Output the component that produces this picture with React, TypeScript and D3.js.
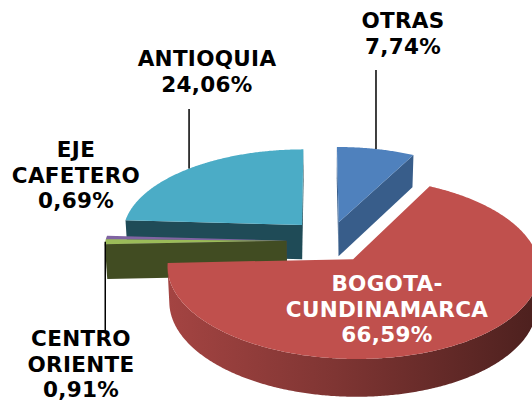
import React from 'react';
import * as d3 from 'd3';

const regions = ['OTRAS', 'BOGOTA-CUNDINAMARCA', 'CENTRO ORIENTE', 'EJE CAFETERO', 'ANTIOQUIA'];
const labelLines = [['OTRAS'], ['BOGOTA-', 'CUNDINAMARCA'], ['CENTRO', 'ORIENTE'], ['EJE', 'CAFETERO'], ['ANTIOQUIA']];
const shares = [7.74, 66.59, 0.91, 0.69, 24.06];
const topColors = ['#4f81bd', '#c0504d', '#9bbb59', '#8064a2', '#4bacc6'];
const cutColors = ['#385d8a', '#8c3836', '#414c22', '#4f3d66', '#1f4b57'];

// per slice offset of the exploded piece, in pie radii (x to the right, z away from the viewer)
const explode = [[0.117, 0.13], [0.19, -0.3], [-0.173, -0.09], [-0.173, -0.09], [-0.09, 0.095]];
// label centre x, first baseline, end of the leader line (null: no leader)
const labelPos: [number, number, number | null][] = [[403, 28, 70], [387, 291, null], [81, 346, 333], [76, 157, null], [207, 66, 109]];

const width = 532;
const height = 404;
const cx = 318;
const cy = 233;
const dist = 9;
const focal = 1616;
const tilt = (28.1 * Math.PI) / 180;
const thick = 0.22;
const lineH = 25.5;

export default function App() {
  const cosE = Math.cos(tilt);
  const sinE = Math.sin(tilt);
  const project = (x: number, y: number, z: number): [number, number] => {
    const w = dist + z * cosE - y * sinE;
    const v = y * cosE + z * sinE;
    return [cx + (focal * x) / w, cy - (focal * v) / w];
  };
  const line = d3.line();
  const fmt = d3.formatLocale({ decimal: ',', thousands: '.', grouping: [3], currency: ['', ''] }).format('.2f');

  const arcs = d3.pie<number>().sort(null).value(d => d)(shares);

  const slices = arcs.map((a, i) => {
    const [ox, oz] = explode[i];
    const a0 = a.startAngle;
    const a1 = a.endAngle;
    const n = Math.max(2, Math.ceil((a1 - a0) / (Math.PI / 360)));
    const angles = d3.range(n + 1).map(k => a0 + ((a1 - a0) * k) / n);
    const rim = (t: number, y: number) => project(ox + Math.sin(t), y, oz + Math.cos(t));
    const centre = (y: number) => project(ox, y, oz);
    const k = dist * cosE + oz;

    const top = line([centre(0), ...angles.map(t => rim(t, 0))]) + 'Z';
    const cuts: string[] = [];
    const cut = (t: number) => line([centre(0), rim(t, 0), rim(t, -thick), centre(-thick)]) + 'Z';
    if (ox * Math.cos(a0) - Math.sin(a0) * k > 0) cuts.push(cut(a0));
    if (-ox * Math.cos(a1) + Math.sin(a1) * k > 0) cuts.push(cut(a1));

    const vis = angles.filter(t => -ox * Math.sin(t) - 1 - Math.cos(t) * k > 0);
    const outer = vis.length > 1
      ? line([...vis.map(t => rim(t, 0)), ...vis.slice().reverse().map(t => rim(t, -thick))]) + 'Z'
      : null;

    const mid = (a0 + a1) / 2;
    const depth = oz + (2 / 3) * Math.cos(mid);
    return { i, top, cuts, outer, anchor: rim(mid, 0), depth };
  });

  const order = slices.slice().sort((p, q) => q.depth - p.depth);

  return (
    <svg width={width} height={height} style={{ position: 'absolute', left: 0, top: 0, background: '#fff' }}>
      <defs>
        {topColors.map((c, i) => (
          <linearGradient key={i} id={`side-${i}`} x1="0" x2="1" y1="0" y2="0">
            <stop offset="0" stopColor={d3.color(c)!.darker(0.45).formatHex()} />
            <stop offset="0.45" stopColor={d3.color(c)!.darker(1.15).formatHex()} />
            <stop offset="1" stopColor={d3.color(c)!.darker(2.6).formatHex()} />
          </linearGradient>
        ))}
      </defs>
      {order.map(s => (
        <g key={regions[s.i]}>
          {s.outer && <path d={s.outer} fill={`url(#side-${s.i})`} />}
          {s.cuts.map((d, j) => <path key={j} d={d} fill={cutColors[s.i]} />)}
          <path d={s.top} fill={topColors[s.i]} />
        </g>
      ))}
      {slices.map(s => {
        const end = labelPos[s.i][2];
        if (end === null) return null;
        const [x, y] = s.anchor;
        return <line key={`l${s.i}`} x1={x} x2={x} y1={y} y2={end} stroke="#000" strokeWidth={1.5} />;
      })}
      {slices.map(s => {
        const [lx, ly] = labelPos[s.i];
        const lines = [...labelLines[s.i], fmt(shares[s.i]) + '%'];
        return (
          <text key={`t${s.i}`} x={lx} y={ly} textAnchor="middle" fontFamily="DejaVu Sans, Verdana, sans-serif"
            fontWeight="bold" fontSize={21.5} letterSpacing={0.3} fill={s.i === 1 ? '#fff' : '#000'}>
            {lines.map((t, j) => <tspan key={j} x={lx} y={ly + j * lineH}>{t}</tspan>)}
          </text>
        );
      })}
    </svg>
  );
}
